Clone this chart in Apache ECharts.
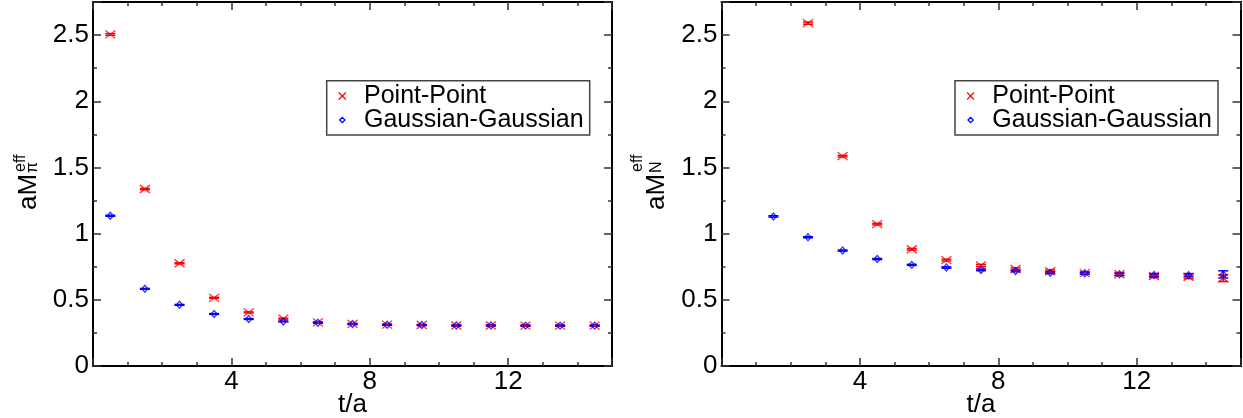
<!DOCTYPE html>
<html><head><meta charset="utf-8">
<script src="https://cdn.jsdelivr.net/npm/echarts@6/dist/echarts.min.js"></script>
<style>html,body{margin:0;padding:0;background:#fff}#c{width:1243px;height:418px}</style>
</head><body><div id="c"></div>
<script>
// ---------------- data ----------------
const tValues = [0.5, 1.5, 2.5, 3.5, 4.5, 5.5, 6.5, 7.5, 8.5, 9.5, 10.5, 11.5, 12.5, 13.5, 14.5];

const pionPointPoint    = [2.505, 1.337, 0.776, 0.515, 0.405, 0.358, 0.330, 0.318, 0.312, 0.310, 0.306, 0.306, 0.305, 0.305, 0.305];
const pionPointPointErr = [0.006, 0.005, 0.004, 0.004, 0.004, 0.004, 0.004, 0.004, 0.004, 0.004, 0.004, 0.004, 0.004, 0.004, 0.004];
const pionGaussGauss    = [1.135, 0.583, 0.462, 0.393, 0.355, 0.337, 0.326, 0.317, 0.311, 0.309, 0.306, 0.306, 0.305, 0.305, 0.305];
const pionGaussGaussErr = [0.004, 0.003, 0.003, 0.003, 0.003, 0.003, 0.003, 0.003, 0.003, 0.003, 0.003, 0.003, 0.003, 0.003, 0.003];

const nucleonPointPoint    = [null, null, 2.590, 1.585, 1.072, 0.882, 0.800, 0.760, 0.733, 0.716, 0.702, 0.693, 0.680, 0.674, 0.663];
const nucleonPointPointErr = [null, null, 0.008, 0.006, 0.006, 0.006, 0.007, 0.008, 0.008, 0.009, 0.009, 0.010, 0.012, 0.014, 0.025];
const nucleonGaussGauss    = [null, 1.130, 0.973, 0.872, 0.808, 0.764, 0.744, 0.726, 0.718, 0.705, 0.701, 0.693, 0.688, 0.686, 0.692];
const nucleonGaussGaussErr = [null, 0.005, 0.004, 0.004, 0.004, 0.004, 0.005, 0.006, 0.006, 0.007, 0.007, 0.008, 0.010, 0.012, 0.027];

const seriesNames = ['Point-Point', 'Gaussian-Gaussian'];
const xTickLabels = [4, 8, 12];
const yTickLabels = [0, 0.5, 1, 1.5, 2, 2.5];
const xAxisTitle = 't/a';
const yAxisTitles = [{main: 'aM', sub: 'π', sup: 'eff'}, {main: 'aM', sub: 'N', sup: 'eff'}];

// ---------------- style ----------------
const FONT = '"Liberation Sans", Arial, Helvetica, sans-serif';
const RED = '#ff0000', BLUE = '#0000ff';
const CROSS = 'path://M0,0L10,8M10,0L0,8';
const DIAMOND = 'path://M3,0L6,3.5L3,7L0,3.5Z';

const panels = [
  {left: 93, legendLeft: 326.7, title: {x: 28.5, y: 210, supDx: 38, supDy: -8, subDx: 37, subDy: 4}},
  {left: 721.5, legendLeft: 955, title: {x: 657, y: 210, supDx: 38, supDy: -19, subDx: 37, subDy: 0}}
];
const GRID_TOP = 2, GRID_W = 519, GRID_H = 364;
const LEGEND = {top: 80.7, width: 263, height: 54.3, iconDx: 15.6, textDx: 37.3, row1: 96, row2: 120};

function near(list, v) { return list.some(t => Math.abs(t - v) < 1e-6); }

function xAxesFor(gi) {
  const base = {type: 'value', gridIndex: gi, min: 0, max: 15, splitLine: {show: false}};
  const line = {show: true, onZero: false, lineStyle: {color: '#000', width: 2}};
  const noLine = {show: false, onZero: false};
  const major = {show: true, inside: true, length: 8, lineStyle: {color: '#333', width: 1.5}};
  const minor = {show: true, inside: true, length: 4, lineStyle: {color: '#333', width: 1.5}};
  return [
    Object.assign({}, base, {position: 'bottom', interval: 4, axisLine: line, axisTick: major,
      axisLabel: {show: true, margin: 3, fontSize: 26, color: '#000', fontFamily: FONT,
        formatter: v => near(xTickLabels, v) ? String(v) : ''},
      name: xAxisTitle, nameLocation: 'middle', nameGap: 26, nameMoveOverlap: false,
      nameTextStyle: {fontSize: 26, color: '#000', fontFamily: FONT, lineHeight: 26}}),
    Object.assign({}, base, {position: 'bottom', interval: 1, axisLine: noLine, axisTick: minor, axisLabel: {show: false}}),
    Object.assign({}, base, {position: 'top', interval: 4, axisLine: line, axisTick: major, axisLabel: {show: false}}),
    Object.assign({}, base, {position: 'top', interval: 1, axisLine: noLine, axisTick: minor, axisLabel: {show: false}})
  ];
}
function yAxesFor(gi) {
  const base = {type: 'value', gridIndex: gi, min: 0, max: 2.75, splitLine: {show: false}};
  const line = {show: true, onZero: false, lineStyle: {color: '#000', width: 2}};
  const noLine = {show: false, onZero: false};
  const major = {show: true, inside: true, length: 8, lineStyle: {color: '#333', width: 1.5}};
  const minor = {show: true, inside: true, length: 4, lineStyle: {color: '#333', width: 1.5}};
  return [
    Object.assign({}, base, {position: 'left', interval: 0.5, axisLine: line, axisTick: major,
      axisLabel: {show: true, margin: 4, fontSize: 26, color: '#000', fontFamily: FONT,
        formatter: v => near(yTickLabels, v) ? String(v) : ''}}),
    Object.assign({}, base, {position: 'left', interval: 0.25, axisLine: noLine, axisTick: minor, axisLabel: {show: false}}),
    Object.assign({}, base, {position: 'right', interval: 0.5, axisLine: line, axisTick: major, axisLabel: {show: false}}),
    Object.assign({}, base, {position: 'right', interval: 0.25, axisLine: noLine, axisTick: minor, axisLabel: {show: false}})
  ];
}

function points(vals, errs) {
  const out = [];
  tValues.forEach((t, i) => { if (vals[i] != null) out.push([t, vals[i], errs[i]]); });
  return out;
}
function errSeries(name, axisIdx, data, color) {
  return {
    type: 'custom', name: name, xAxisIndex: axisIdx, yAxisIndex: axisIdx, data: data,
    encode: {x: 0, y: 1}, silent: true,
    renderItem: function (params, api) {
      const x = api.value(0), y = api.value(1), e = api.value(2);
      const a = api.coord([x, y + e]), b = api.coord([x, y - e]);
      const hw = 5;
      const st = {stroke: color, lineWidth: 1.5, fill: null};
      return {type: 'group', children: [
        {type: 'line', shape: {x1: a[0], y1: a[1], x2: b[0], y2: b[1]}, style: st},
        {type: 'line', shape: {x1: a[0] - hw, y1: a[1], x2: a[0] + hw, y2: a[1]}, style: st},
        {type: 'line', shape: {x1: b[0] - hw, y1: b[1], x2: b[0] + hw, y2: b[1]}, style: st}
      ]};
    }
  };
}
function ppSeries(axisIdx, data) {
  return {type: 'scatter', name: seriesNames[0], xAxisIndex: axisIdx, yAxisIndex: axisIdx,
    data: data.map(d => [d[0], d[1]]), symbol: CROSS, symbolSize: [10, 8],
    itemStyle: {color: 'none', borderColor: RED, borderWidth: 1.3}, silent: true};
}
function ggSeries(axisIdx, data) {
  return {type: 'scatter', name: seriesNames[1], xAxisIndex: axisIdx, yAxisIndex: axisIdx,
    data: data.map(d => [d[0], d[1]]), symbol: DIAMOND, symbolSize: [6, 7],
    itemStyle: {color: 'none', borderColor: BLUE, borderWidth: 1.3}, silent: true};
}

const sets = [
  {pp: points(pionPointPoint, pionPointPointErr), gg: points(pionGaussGauss, pionGaussGaussErr)},
  {pp: points(nucleonPointPoint, nucleonPointPointErr), gg: points(nucleonGaussGauss, nucleonGaussGaussErr)}
];

function legendBox(left) {
  const cx = left + LEGEND.iconDx, tx = left + LEGEND.textDx;
  const r1 = LEGEND.row1, r2 = LEGEND.row2, c = 3.5, d = 2.6;
  return {
    type: 'group', z: 100, silent: true,
    children: [
      {type: 'rect', shape: {x: left, y: LEGEND.top, width: LEGEND.width, height: LEGEND.height},
        style: {fill: '#fff', stroke: '#444', lineWidth: 1.5}},
      {type: 'line', shape: {x1: cx - c, y1: r1 - c, x2: cx + c, y2: r1 + c}, style: {stroke: RED, lineWidth: 1.2}},
      {type: 'line', shape: {x1: cx - c, y1: r1 + c, x2: cx + c, y2: r1 - c}, style: {stroke: RED, lineWidth: 1.2}},
      {type: 'polygon', shape: {points: [[cx, r2 - d], [cx + d, r2], [cx, r2 + d], [cx - d, r2]]},
        style: {fill: 'none', stroke: BLUE, lineWidth: 1.3}},
      {type: 'text', x: tx, y: r1, style: {text: seriesNames[0], fontSize: 25, fontFamily: FONT, fill: '#000', align: 'left', verticalAlign: 'middle'}},
      {type: 'text', x: tx, y: r2, style: {text: seriesNames[1], fontSize: 25, fontFamily: FONT, fill: '#000', align: 'left', verticalAlign: 'middle'}}
    ]
  };
}

const grids = [], xAxes = [], yAxes = [], series = [], graphics = [];
panels.forEach((p, gi) => {
  grids.push({left: p.left, top: GRID_TOP, width: GRID_W, height: GRID_H, containLabel: false, outerBoundsMode: 'none'});
  xAxes.push(...xAxesFor(gi));
  yAxes.push(...yAxesFor(gi));
  const ai = gi * 4;
  series.push(errSeries('pp-err-' + gi, ai, sets[gi].pp, RED));
  series.push(ppSeries(ai, sets[gi].pp));
  series.push(errSeries('gg-err-' + gi, ai, sets[gi].gg, BLUE));
  series.push(ggSeries(ai, sets[gi].gg));
  graphics.push(legendBox(p.legendLeft));
  const t = p.title, lbl = yAxisTitles[gi];
  graphics.push({
    type: 'group', x: t.x, y: t.y, rotation: Math.PI / 2, silent: true,
    children: [
      {type: 'text', x: 0, y: 0, style: {text: lbl.main, fontSize: 26, fontFamily: FONT, fill: '#000', align: 'left', verticalAlign: 'middle'}},
      {type: 'text', x: t.supDx, y: t.supDy, style: {text: lbl.sup, fontSize: 16, fontFamily: FONT, fill: '#000', align: 'left', verticalAlign: 'middle'}},
      {type: 'text', x: t.subDx, y: t.subDy, style: {text: lbl.sub, fontSize: 16, fontFamily: FONT, fill: '#000', align: 'left', verticalAlign: 'middle'}}
    ]
  });
});

const chart = echarts.init(document.getElementById('c'), null, {renderer: 'canvas'});
chart.setOption({
  backgroundColor: '#fff',
  animation: false,
  grid: grids, xAxis: xAxes, yAxis: yAxes, series: series,
  graphic: {elements: graphics},
  tooltip: {show: false}
});
</script>
</body></html>
